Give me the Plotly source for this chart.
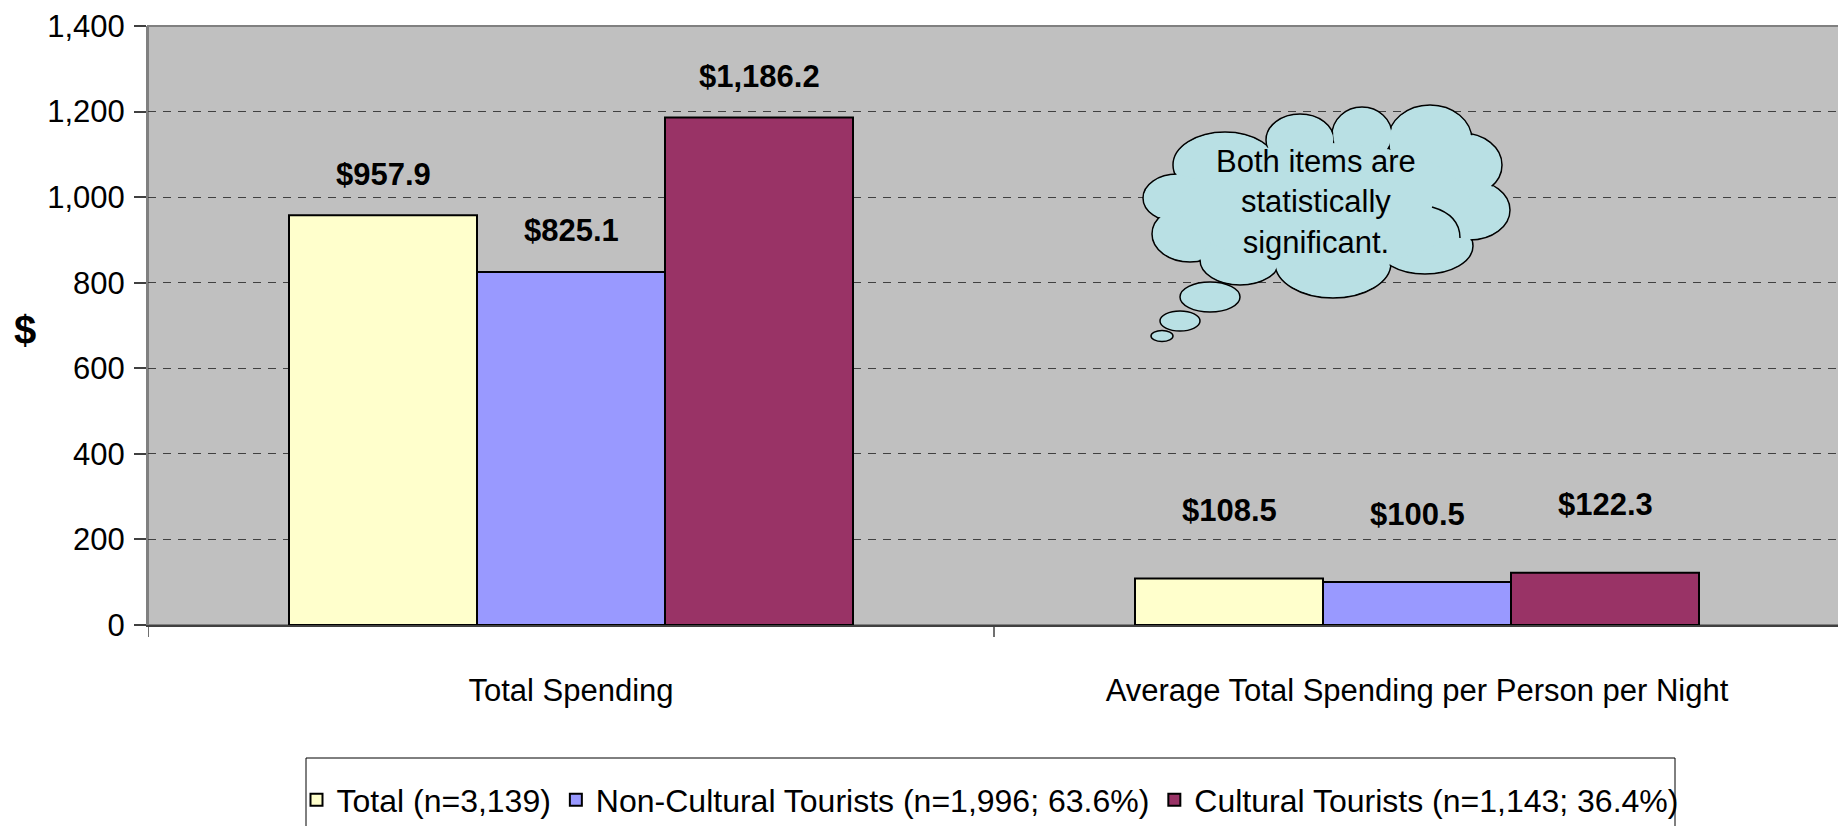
import plotly.graph_objects as go

# ---------------- data ----------------
categories = ["Total Spending", "Average Total Spending per Person per Night"]
series_names = [
    "Total (n=3,139)",
    "Non-Cultural Tourists (n=1,996; 63.6%)",
    "Cultural Tourists (n=1,143; 36.4%)",
]
total_vals = [957.9, 108.5]
noncultural_vals = [825.1, 100.5]
cultural_vals = [1186.2, 122.3]
y_tick_vals = [0, 200, 400, 600, 800, 1000, 1200, 1400]
y_title = "$"
note_lines = ["Both items are", "statistically", "significant."]

# ---------------- style ----------------
OFF = 8                      # default page body margin
W, H = 1846 - OFF, 826 - OFF
PLOT_L, PLOT_R, PLOT_T, PLOT_B = 148, 1840, 26, 625   # plot area in page pixels
ML, MT = PLOT_L - OFF, PLOT_T - OFF
PW, PH = PLOT_R - PLOT_L, PLOT_B - PLOT_T
MR, MB = W - ML - PW, H - MT - PH
colors = ["#FFFFCC", "#9999FF", "#993366"]
FONT = "Liberation Sans, Arial, sans-serif"
FS = 31
BARGAP = 1 / 3
label_offset_px = [41, 68]   # distance of the value label above the bar top, per category
CLOUD_FILL = "#B9E0E4"

series_vals = [total_vals, noncultural_vals, cultural_vals]
xpos = list(range(len(categories)))


def px_to_paper(px, py):
    return (px - PLOT_L) / PW, (PLOT_B - py) / PH


fig = go.Figure()
for name, vals, col in zip(series_names, series_vals, colors):
    fig.add_trace(go.Bar(
        x=xpos, y=vals, name=name,
        marker=dict(color=col, line=dict(color="#000000", width=2)),
        hoverinfo="y+name",
    ))

# value labels
n = len(series_vals)
bw = (1 - BARGAP) / n
for j, vals in enumerate(series_vals):
    for i, v in enumerate(vals):
        fig.add_annotation(
            x=i + (j - (n - 1) / 2) * bw, y=v, xref="x", yref="y",
            text=f"<b>${v:,.1f}</b>", showarrow=False,
            xanchor="center", yanchor="middle", yshift=label_offset_px[i],
            font=dict(family=FONT, size=FS, color="#000000"),
        )

shapes = []
# plot-area border
shapes.append(dict(type="rect", xref="paper", yref="paper", x0=0, y0=0, x1=1, y1=1,
                   line=dict(color="#808080", width=2), layer="below"))
# category boundary tick marks
for xb in [-0.5, 0.5, 1.5]:
    shapes.append(dict(type="line", xref="x", yref="paper", x0=xb, x1=xb,
                       y0=0, y1=-12 / PH, line=dict(color="#404040", width=1.5)))
# legend frame
lb0 = px_to_paper(306, 834)
lb1 = px_to_paper(1675, 758)
shapes.append(dict(type="rect", xref="paper", yref="paper", x0=lb0[0], y0=lb0[1],
                   x1=lb1[0], y1=lb1[1], fillcolor="#FFFFFF",
                   line=dict(color="#000000", width=1), layer="below"))


def ellipse(cx, cy, rx, ry, fill, line_w):
    xa, ya = px_to_paper(cx - rx, cy + ry)
    xb_, yb = px_to_paper(cx + rx, cy - ry)
    d = dict(type="circle", xref="paper", yref="paper", x0=xa, y0=ya, x1=xb_, y1=yb,
             fillcolor=fill)
    d["line"] = dict(color="#000000", width=line_w) if line_w > 0 else dict(width=0)
    return d


# thought cloud: union of lobes (outlined layer, then fill-only layer to hide inner edges)
lobes = [
    (1225, 165, 52, 33), (1177, 198, 34, 24), (1190, 234, 38, 28), (1240, 260, 40, 25),
    (1333, 263, 58, 35), (1425, 246, 48, 28), (1470, 210, 40, 30), (1462, 165, 40, 32),
    (1430, 140, 42, 35), (1362, 135, 30, 28), (1300, 140, 34, 26),
]
for (cx, cy, rx, ry) in lobes:
    shapes.append(ellipse(cx, cy, rx, ry, CLOUD_FILL, 1.5))
for (cx, cy, rx, ry) in lobes:
    shapes.append(ellipse(cx, cy, rx - 1.2, ry - 1.2, CLOUD_FILL, 0))
shapes.append(ellipse(1325, 205, 145, 62, CLOUD_FILL, 0))
# inner arc of the cloud outline
p0 = px_to_paper(1432, 207)
p1 = px_to_paper(1460, 215)
p2 = px_to_paper(1460, 238)
shapes.append(dict(type="path", xref="paper", yref="paper",
                   path=f"M{p0[0]:.5f},{p0[1]:.5f} Q{p1[0]:.5f},{p1[1]:.5f} {p2[0]:.5f},{p2[1]:.5f}",
                   line=dict(color="#000000", width=1.5)))
# trailing bubbles
for (bcx, bcy, brx, bry) in [(1210, 297, 30, 15), (1180, 321, 20, 10), (1162, 336, 11, 5.5)]:
    shapes.append(ellipse(bcx, bcy, brx, bry, CLOUD_FILL, 1.5))

tx_, ty_ = px_to_paper(1316, 202)
fig.add_annotation(
    x=tx_, y=ty_, xref="paper", yref="paper", showarrow=False,
    xanchor="center", yanchor="middle",
    text="<br>".join(note_lines), align="center",
    font=dict(family=FONT, size=31, color="#000000"),
)

# y-axis title ($), upright
ttx, tty = px_to_paper(25, 330)
fig.add_annotation(
    x=ttx, y=tty, xref="paper", yref="paper", showarrow=False,
    xanchor="center", yanchor="middle", text=f"<b>{y_title}</b>",
    font=dict(family=FONT, size=40, color="#000000"),
)

lx, ly = px_to_paper(990, 800)
fig.update_layout(
    width=W, height=H,
    margin=dict(l=ML, r=MR, t=MT, b=MB, autoexpand=False),
    paper_bgcolor="#FFFFFF", plot_bgcolor="#C0C0C0",
    barmode="group", bargap=BARGAP, bargroupgap=0,
    font=dict(family=FONT, size=FS, color="#000000"),
    shapes=shapes,
    showlegend=True,
    legend=dict(
        orientation="h", x=lx, xanchor="center", y=ly, yanchor="middle",
        borderwidth=0, bgcolor="rgba(0,0,0,0)",
        font=dict(family=FONT, size=32), itemwidth=30, tracegroupgap=0,
    ),
    xaxis=dict(
        range=[-0.5, 1.5], tickmode="array", tickvals=xpos, ticktext=categories,
        showgrid=False, zeroline=False, ticks="", showline=True,
        linecolor="#404040", linewidth=2, ticklabelstandoff=37,
        tickfont=dict(family=FONT, size=FS), automargin=False,
    ),
    yaxis=dict(
        range=[0, 1400], tickmode="array", tickvals=y_tick_vals,
        ticktext=[f"{v:,}" for v in y_tick_vals],
        showgrid=True, gridcolor="#404040", gridwidth=1, griddash="8px,7px",
        zeroline=False, showline=True, linecolor="#808080", linewidth=2,
        ticks="outside", ticklen=12, tickcolor="#404040", tickwidth=1.5,
        ticklabelstandoff=3, tickfont=dict(family=FONT, size=FS), automargin=False,
    ),
)

fig.write_html("out.html")
